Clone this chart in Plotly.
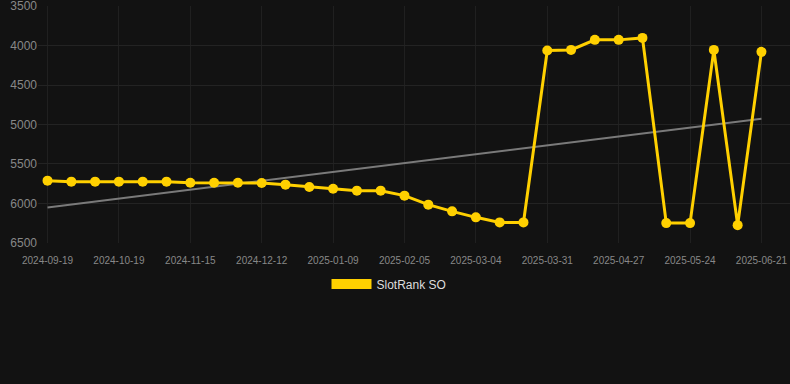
import plotly.graph_objects as go

dates = [
    "2024-09-19", "2024-09-29", "2024-10-09", "2024-10-19", "2024-10-28", "2024-11-06",
    "2024-11-15", "2024-11-24", "2024-12-03", "2024-12-12", "2024-12-21", "2024-12-31",
    "2025-01-09", "2025-01-18", "2025-01-27", "2025-02-05", "2025-02-14", "2025-02-23",
    "2025-03-04", "2025-03-13", "2025-03-22", "2025-03-31", "2025-04-09", "2025-04-18",
    "2025-04-27", "2025-05-06", "2025-05-15", "2025-05-24", "2025-06-02", "2025-06-11",
    "2025-06-21",
]
rank = [
    5711, 5724, 5724, 5724, 5724, 5724, 5737, 5737, 5737, 5741, 5762, 5791,
    5813, 5838, 5838, 5901, 6015, 6100, 6176, 6240, 6240, 4063, 4055, 3928,
    3928, 3903, 6249, 6249, 4055, 6275, 4080,
]
trend_dates = [dates[0], dates[-1]]
trend_values = [6050, 4928]
tick_labels = dates[::3]
y_ticks = [3500, 4000, 4500, 5000, 5500, 6000, 6500]

YELLOW = "#FFD000"

fig = go.Figure()
fig.add_trace(go.Scatter(
    x=trend_dates, y=trend_values, mode="lines",
    line=dict(color="#7a7a7a", width=2), showlegend=False, hoverinfo="skip",
))
fig.add_trace(go.Scatter(
    x=dates, y=rank, mode="lines+markers",
    line=dict(color=YELLOW, width=3),
    marker=dict(color=YELLOW, size=10),
    showlegend=False, name="SlotRank SO",
))
fig.add_trace(go.Scatter(
    x=[None], y=[None], mode="lines",
    line=dict(color=YELLOW, width=11),
    name="SlotRank SO", showlegend=True,
))

fig.update_layout(
    width=790, height=384,
    paper_bgcolor="#121212", plot_bgcolor="#121212",
    margin=dict(l=38, r=0, t=6, b=141),
    font=dict(family="Liberation Sans, Arial, sans-serif", color="#888888"),
    showlegend=True,
    legend=dict(
        orientation="h", x=0.5 - 6 / 790, xanchor="center", xref="container",
        y=1 - 284 / 384, yanchor="middle", yref="container",
        font=dict(size=12, color="#dddddd"), bgcolor="rgba(0,0,0,0)",
        itemwidth=40,
    ),
    xaxis=dict(
        type="category", categoryorder="array", categoryarray=dates,
        range=[-0.4, 31.2],
        tickmode="array", tickvals=tick_labels, ticktext=tick_labels,
        tickfont=dict(size=10, color="#888888"),
        showgrid=True, gridcolor="#202020", gridwidth=1,
        zeroline=False, showline=False,
        ticks="outside", ticklen=8, tickcolor="rgba(0,0,0,0)",
    ),
    yaxis=dict(
        autorange=False, range=[6501, 3499],
        tickmode="array", tickvals=y_ticks,
        tickfont=dict(size=12, color="#888888"),
        ticklabeloverflow="allow",
        showgrid=True, gridcolor="#232323", gridwidth=1,
        zeroline=False, showline=False,
    ),
)

fig.write_html(
    "out.html",
    config={"displayModeBar": False},
    post_script="document.body.style.margin='0';document.body.style.background='#121212';",
)
